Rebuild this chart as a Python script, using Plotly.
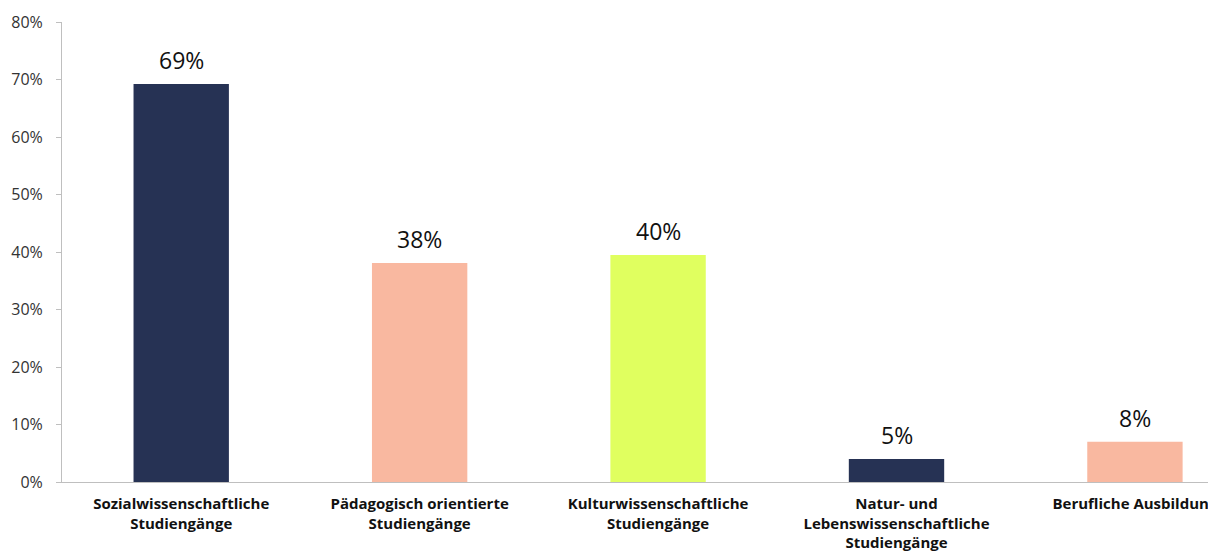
import plotly.graph_objects as go

categories = [
    "Sozialwissenschaftliche<br>Studiengänge",
    "Pädagogisch orientierte<br>Studiengänge",
    "Kulturwissenschaftliche<br>Studiengänge",
    "Natur- und<br>Lebenswissenschaftliche<br>Studiengänge",
    "Berufliche Ausbildung",
]
values = [69.2, 38.1, 39.5, 4.0, 7.0]
value_labels = ["69%", "38%", "40%", "5%", "8%"]
bar_colors = ["#263254", "#F9B8A0", "#E0FF5F", "#263254", "#F9B8A0"]
y_ticks = [0, 10, 20, 30, 40, 50, 60, 70, 80]
y_tick_labels = [f"{t}%" for t in y_ticks]

x_pos = list(range(len(categories)))

fig = go.Figure(
    go.Bar(
        x=x_pos,
        y=values,
        marker=dict(color=bar_colors, line=dict(width=0)),
        width=0.4,
        hoverinfo="skip",
    )
)

for xi, v, lab in zip(x_pos, values, value_labels):
    fig.add_annotation(
        x=xi, y=v, text=lab, showarrow=False,
        yanchor="bottom", yshift=6,
        font=dict(family="Open Sans", size=23, color="#111111"),
    )

fig.update_layout(
    width=1216,
    height=556,
    margin=dict(l=54, r=8, t=14, b=82, autoexpand=False),
    paper_bgcolor="white",
    plot_bgcolor="white",
    showlegend=False,
    bargap=0.6,
    font=dict(family="Open Sans", color="#333333"),
)
fig.update_xaxes(
    range=[-0.5, 4.34],
    tickmode="array",
    tickvals=x_pos,
    ticktext=[f"<b>{c}</b>" for c in categories],
    tickfont=dict(family="Open Sans", size=15, color="#111111"),
    ticklabelstandoff=8,
    showline=True,
    linecolor="#BFBFBF",
    linewidth=1,
    showgrid=False,
    zeroline=False,
    ticks="",
    automargin=False,
)
fig.update_yaxes(
    range=[0, 80],
    tickmode="array",
    tickvals=y_ticks,
    ticktext=y_tick_labels,
    tickfont=dict(family="Open Sans", size=16, color="#333333"),
    ticklabelstandoff=10,
    showline=True,
    linecolor="#BFBFBF",
    linewidth=1,
    ticks="outside",
    ticklen=5,
    tickcolor="#BFBFBF",
    showgrid=False,
    zeroline=False,
    automargin=False,
)

fig.write_html("out.html")
